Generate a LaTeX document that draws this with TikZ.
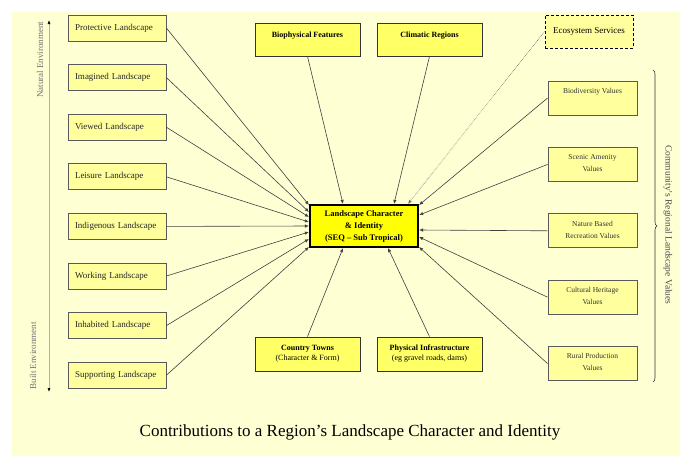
\documentclass[tikz,border=0pt]{standalone}
\usepackage{fontspec}
\setmainfont{Liberation Serif}
\usetikzlibrary{positioning,arrows.meta,decorations.pathreplacing}

\definecolor{paper}{HTML}{FFFFD4}
\definecolor{palebox}{HTML}{FFFF9E}
\definecolor{brightbox}{HTML}{FFFF66}
\definecolor{corefill}{HTML}{FFFF00}

\begin{document}
\begin{tikzpicture}[
    x=1pt, y=-1pt,
    font=\fontsize{9}{10}\selectfont,
    sidebox/.style={draw=black!65, line width=0.8pt, fill=palebox, minimum width=98pt,
      minimum height=26pt, text width=84pt, align=left, inner sep=0pt, text=black!85},
    valbox/.style={draw=black!65, line width=0.8pt, fill=palebox, minimum width=89pt,
      minimum height=34pt, inner sep=0pt},
    valtext/.style={anchor=north, yshift=-4pt, align=center,
      font=\fontsize{7.5}{12}\selectfont, text=black!80},
    topbox/.style={draw=black!80, line width=0.8pt, fill=brightbox, minimum width=105pt,
      minimum height=33pt, inner sep=0pt},
    toptext/.style={anchor=north, yshift=-6pt, font=\fontsize{8}{10}\selectfont\bfseries},
    link/.style={black!75, line width=0.6pt, -{Latex[length=4pt,width=3.5pt]}},
    envlabel/.style={rotate=90, font=\fontsize{9}{10}\selectfont, text=black!55},
  ]

  \useasboundingbox (0,0) rectangle (680,456);
  \fill[paper] (12,12) rectangle (680,456);

  % ============================================================
  % Centre box
  % ============================================================
  \node[draw=black, line width=2.2pt, fill=corefill, minimum width=108pt, minimum height=42pt,
        align=center, font=\fontsize{8.5}{12}\selectfont\bfseries] (core) at (364, 226)
    {Landscape Character\\\& Identity\\(SEQ – Sub Tropical)};

  % ============================================================
  % Left: landscapes (natural -> built)
  % ============================================================
  \foreach \i/\t/\s in {0/Protective/21, 1/Imagined/14, 2/Viewed/9, 3/Leisure/4,
                        4/Indigenous/0, 5/Working/-6, 6/Inhabited/-13, 7/Supporting/-21} {
    \node[sidebox] (land\i) at (117, 28+\i*49.6) {\t{} Landscape};
    \draw[link] (land\i.east) -- ([yshift=\s pt]core.west);
  }

  % Environment axis
  \coordinate (envtop) at (49, 20);
  \coordinate (envbot) at (49, 392);
  \draw[black!30, line width=0.6pt,
        {Latex[black,length=4pt,width=3pt]}-{Latex[black,length=4pt,width=3pt]}] (envtop) -- (envbot);
  \node[envlabel, anchor=east] (natenv) at (40, 18) {Natural Environment};
  \node[envlabel, anchor=west] (builtenv) at (33, 393) {Built Environment};

  % ============================================================
  % Top and bottom
  % ============================================================
  \node[topbox, label={[toptext]north:Biophysical Features}] (bio) at (307.5, 39.5) {};
  \node[topbox, label={[toptext]north:Climatic Regions}] (clim) at (429.5, 39.5) {};
  \node[topbox, densely dashed, draw=black, line width=1pt, fill=palebox,
        minimum width=88pt] (eco) at (589, 31.5) {Ecosystem Services};

  \draw[link] (bio.south) -- ([xshift=-21pt]core.north);
  \draw[link] (clim.south) -- ([xshift=30pt]core.north);
  \draw[link, densely dotted, black!55] (eco.west) -- ([xshift=44pt]core.north);

  \node[topbox, minimum height=34pt, align=center, font=\fontsize{8}{10}\selectfont] (towns)
    at (307.5, 354) {\textbf{Country Towns}\\(Character \& Form)};
  \node[topbox, minimum height=34pt, align=center, font=\fontsize{8}{10}\selectfont] (infra)
    at (429.5, 354) {\textbf{Physical Infrastructure}\\(eg gravel roads, dams)};

  \draw[link] (towns.north) -- ([xshift=-21pt]core.south);
  \draw[link] (infra.north) -- ([xshift=24pt]core.south);

  % ============================================================
  % Right: community values
  % ============================================================
  \foreach \i/\t/\s in {0/Biodiversity Values/21, 1/Scenic Amenity\\Values/11,
                        2/Nature Based\\Recreation Values/-4, 3/Cultural Heritage\\Values/-11,
                        4/Rural Production\\Values/-21} {
    \node[valbox, label={[valtext]north:{\t}}] (val\i) at (592.5, 98+\i*66.4) {};
    \draw[link] (val\i.west) -- ([yshift=\s pt]core.east);
  }

  \coordinate (bracetop) at (653, 70);
  \coordinate (bracebot) at (653, 382);
  \draw[decorate, decoration={brace, amplitude=4pt}, black!80, line width=0.6pt]
    (bracetop) -- (bracebot);
  \node[rotate=-90, font=\fontsize{9.5}{10}\selectfont, text=black!70] (vallabel) at (668, 225)
    {Community’s Regional Landscape Values};

  % Caption
  \node[font=\fontsize{17}{18}\selectfont] (title) at (350, 432)
    {Contributions to a Region’s Landscape Character and Identity};

\end{tikzpicture}
\end{document}
